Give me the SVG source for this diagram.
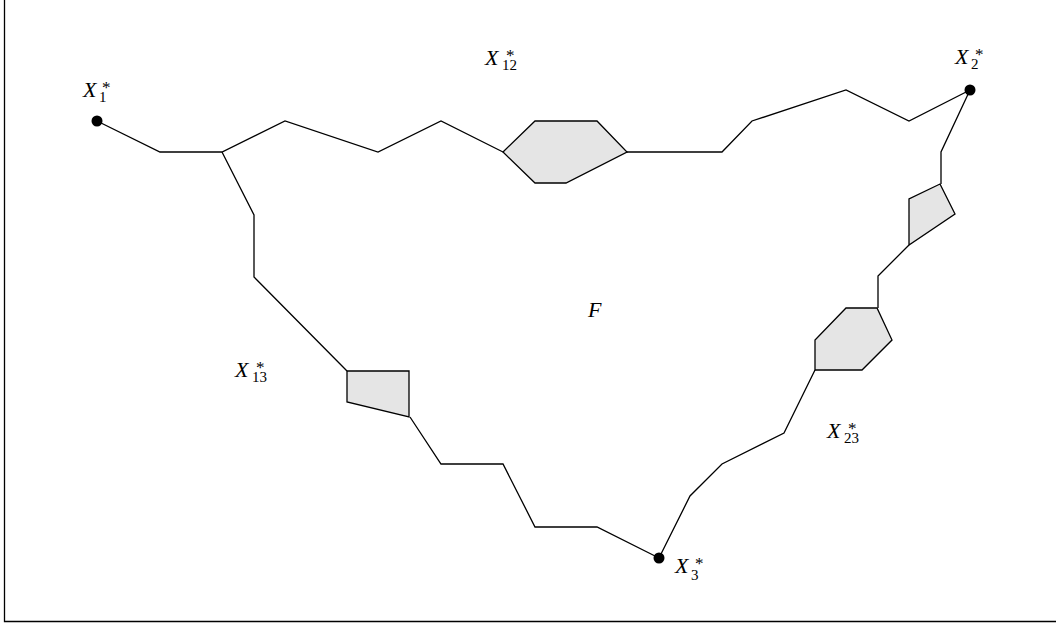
<svg xmlns="http://www.w3.org/2000/svg" width="1056" height="623" viewBox="0 0 1056 623">
<style>
.e{fill:none;stroke:#000;stroke-width:1.3;stroke-linejoin:miter}
.r{fill:#e5e5e5;stroke:#000;stroke-width:1.3}
.d{fill:#000}
.t{font-family:"Liberation Serif",serif;font-style:italic;font-size:22px;fill:#000}
.s{font-style:normal;font-size:15px}
.a{font-style:normal;font-size:17px}
</style>
<rect x="0" y="0" width="1056" height="623" fill="#fff"/>
<path d="M4.5 0V621.5H1056" fill="none" stroke="#000" stroke-width="1.3"/>
<g id="connectors">
<polyline class="e" points="97,121 160,152 222,152 285,121 378,152 441,121 503,152"/>
<polyline class="e" points="627,152 722,152 752,121 846,90 909,121 970,90"/>
<polyline class="e" points="970,90 941,152 941,184"/>
<polyline class="e" points="909,245 878,276 878,308"/>
<polyline class="e" points="815,370 784,433 722,464 690,496 659,558"/>
<polyline class="e" points="659,558 597,527 535,527 503,464 441,464 410,417"/>
<polyline class="e" points="347,371 254,277 254,215 222,152"/>
</g>
<g id="region12"><polygon class="r" points="503,152 535,121 597,121 627,152 566,183 535,183"/></g>
<g id="region2a"><polygon class="r" points="940,184 955,214 909,245 909,199"/></g>
<g id="region23"><polygon class="r" points="846,308 877,308 892,340 862,370 815,370 815,340"/></g>
<g id="region13"><polygon class="r" points="347,371 409,371 409,417 347,402"/></g>
<g id="X1"><circle class="d" cx="97" cy="121" r="5.5"/>
<text class="t" x="83" y="97">X<tspan class="s" x="99" y="102">1</tspan><tspan class="a" x="102" y="93">*</tspan></text></g>
<g id="X2"><circle class="d" cx="970" cy="90" r="5.5"/>
<text class="t" x="955" y="64">X<tspan class="s" x="971" y="69">2</tspan><tspan class="a" x="975" y="60">*</tspan></text></g>
<g id="X3"><circle class="d" cx="659" cy="558" r="5.5"/>
<text class="t" x="675" y="573">X<tspan class="s" x="691" y="580">3</tspan><tspan class="a" x="695" y="569">*</tspan></text></g>
<g id="L12"><text class="t" x="485" y="65">X<tspan class="s" x="502" y="70">12</tspan><tspan class="a" x="506" y="61">*</tspan></text></g>
<g id="L13"><text class="t" x="235" y="377">X<tspan class="s" x="252" y="382">13</tspan><tspan class="a" x="256" y="373">*</tspan></text></g>
<g id="L23"><text class="t" x="827" y="438">X<tspan class="s" x="844" y="443">23</tspan><tspan class="a" x="848" y="434">*</tspan></text></g>
<g id="F"><text class="t" x="588" y="317">F</text></g>
</svg>
